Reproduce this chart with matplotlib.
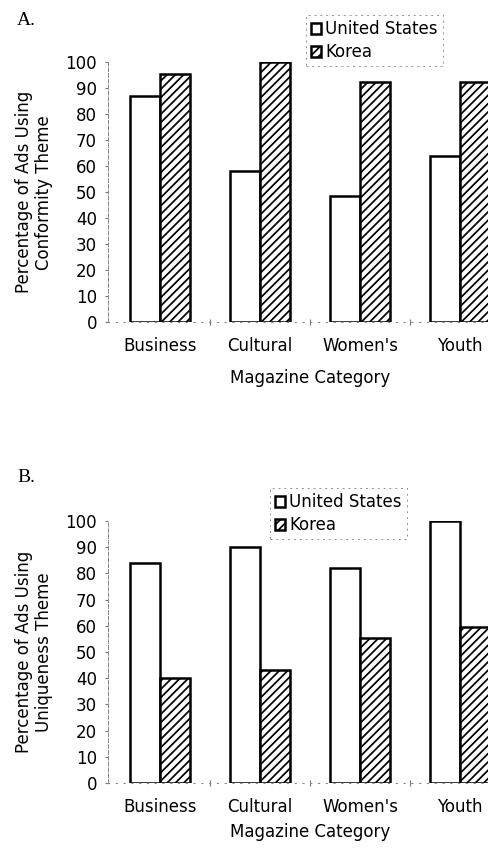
import numpy as np
import matplotlib
matplotlib.use('Agg')
import matplotlib.pyplot as plt

plt.rcParams['font.family'] = ['DejaVu Sans']
plt.rcParams['hatch.linewidth'] = 1.25

categories = ['Business', 'Cultural', "Women's", 'Youth']
series_names = ['United States', 'Korea']

# panel A: conformity theme
conformity_us = [87, 58, 48.5, 64]
conformity_korea = [95.5, 100, 92.5, 92.5]

# panel B: uniqueness theme
uniqueness_us = [84, 90, 82, 100]
uniqueness_korea = [40, 43, 55.5, 59.5]

yticks = list(range(0, 101, 10))

fig = plt.figure(figsize=(4.89, 8.52), dpi=100)

panels = [
    ('A.', conformity_us, conformity_korea, 'Percentage of Ads Using\nConformity Theme',
     [0.221, 0.622, 0.826, 0.305], (0.626, 0.982), 0.986, 10),
    ('B.', uniqueness_us, uniqueness_korea, 'Percentage of Ads Using\nUniqueness Theme',
     [0.221, 0.081, 0.826, 0.3075], (0.552, 0.427), 0.450, 5),
]

x = np.arange(len(categories))
w = 0.3

for letter, us, kor, ylab, pos, leg_anchor, letter_y, xlpad in panels:
    ax = fig.add_axes(pos)
    ax.bar(x - w / 2, us, width=w, facecolor='white', edgecolor='black',
           linewidth=1.8, label=series_names[0])
    ax.bar(x + w / 2, kor, width=w, facecolor='white', edgecolor='black',
           linewidth=1.8, hatch='////', label=series_names[1])
    ax.set_xlim(-0.52, 3.52)
    ax.set_ylim(0, 100)
    ax.set_yticks(yticks)
    ax.tick_params(axis='y', labelsize=12, length=2, width=0.8, color='#777777', pad=6)
    ax.set_xticks(x)
    ax.set_xticklabels(categories, fontsize=12)
    ax.set_xticks([0.5, 1.5, 2.5], minor=True)
    ax.tick_params(axis='x', which='major', length=0, pad=11)
    ax.tick_params(axis='x', which='minor', length=4, width=0.8, color='#777777',
                   direction='inout')
    for s in ['top', 'right']:
        ax.spines[s].set_visible(False)
    ax.spines['left'].set_linestyle((0, (4, 2)))
    ax.spines['left'].set_linewidth(0.7)
    ax.spines['left'].set_color('#888888')
    ax.spines['bottom'].set_linestyle((0, (1, 6)))
    ax.spines['bottom'].set_linewidth(0.8)
    ax.spines['bottom'].set_color('#888888')
    ax.set_xlabel('Magazine Category', fontsize=12, labelpad=xlpad)

    # y label placed by hand, like the scanned figure
    ymid = pos[1] + pos[3] / 2
    fig.text(34 / 489, ymid, ylab, fontsize=12, rotation=90, ha='center',
             va='center', ma='center', linespacing=1.15)

    leg = ax.legend(loc='upper left', bbox_to_anchor=leg_anchor,
                    bbox_transform=fig.transFigure, fontsize=12,
                    handlelength=0.6, handleheight=0.6, handletextpad=0.25,
                    labelspacing=0.3, borderpad=0.3, fancybox=False,
                    borderaxespad=0)
    fr = leg.get_frame()
    fr.set_edgecolor('#777777')
    fr.set_linewidth(0.7)
    fr.set_linestyle((0, (2, 4)))
    for h in leg.legend_handles:
        h.set_linewidth(1.8)

    fig.text(0.035, letter_y, letter, fontsize=14, family='Liberation Serif',
             va='top', ha='left')

fig.savefig('out.png', dpi=100)
